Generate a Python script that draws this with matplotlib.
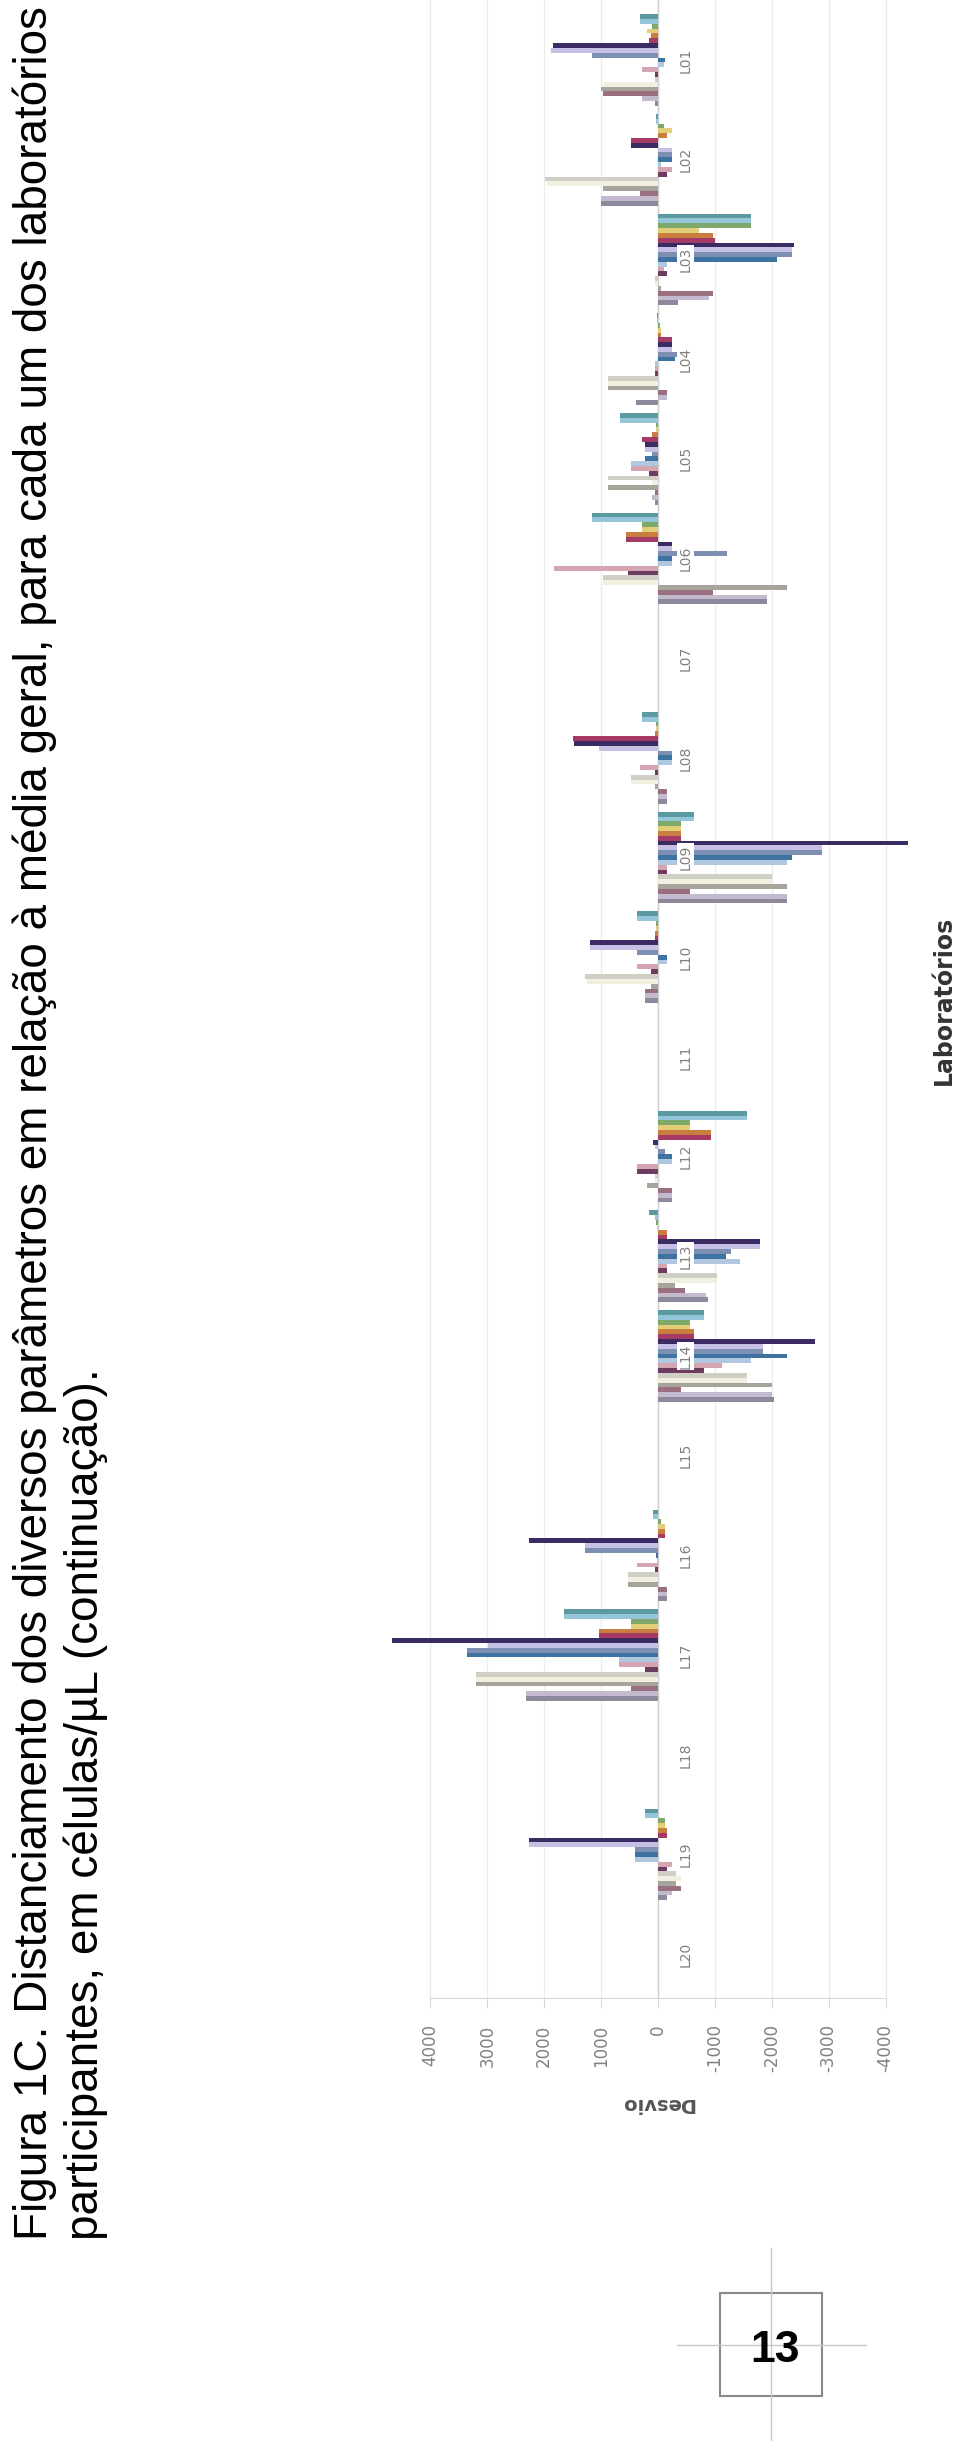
import numpy as np
import matplotlib.pyplot as plt
from matplotlib.patches import Rectangle
from matplotlib.lines import Line2D

# labs, top to bottom as they appear on the (rotated) page
labs = ['L01', 'L02', 'L03', 'L04', 'L05', 'L06', 'L07', 'L08', 'L09', 'L10',
        'L11', 'L12', 'L13', 'L14', 'L15', 'L16', 'L17', 'L18', 'L19', 'L20']

value_ticks = [4000, 3000, 2000, 1000, 0, -1000, -2000, -3000, -4000]

# distance to the overall mean, one value per parameter (19 parameters)
lab01 = [310, 310, 100, 190, 120, 150, 1850, 1880, 1160, -125, -100, 280, 60, 60, 970, 1000, 970, 280, 60]
lab02 = [30, 40, -100, -250, -150, 470, 470, -250, -250, -250, -50, -250, -150, 1980, 1950, 970, 310, 1000, 1000]
lab03 = [-1630, -1630, -1630, -720, -970, -1000, -2385, -2350, -2350, -2100, -150, -100, -150, 60, 60, -50, -970, -900, -350]
lab04 = [20, 20, -30, -60, -60, -250, -250, -250, -440, -300, 60, 60, 60, 880, 880, 880, -150, -150, 380]
lab05 = [660, 660, 40, 40, 100, 280, 220, 220, 100, 220, 470, 470, 150, 880, 100, 880, 60, 100, 60]
lab06 = [1160, 1160, 280, 280, 565, 565, -250, -250, -1220, -250, -250, 1820, 530, 970, 970, -2260, -970, -1915, -1915]
lab07 = [0] * 19
lab08 = [280, 280, 30, 30, 60, 1500, 1475, 1035, -250, -250, -250, 310, 60, 470, 470, 60, -150, -150, -150]
lab09 = [-630, -630, -410, -410, -410, -410, -4400, -2890, -2890, -2350, -2260, -150, -150, -2000, -2000, -2260, -565, -2260, -2260]
lab10 = [375, 375, 30, 30, 60, 60, 1190, 1190, 375, -150, -150, 375, 125, 1290, 1250, 125, 220, 220, 220]
lab11 = [0] * 19
lab12 = [-1570, -1570, -570, -570, -940, -940, 95, 50, -120, -250, -250, 375, 375, 60, 60, 190, -250, -250, -250]
lab13 = [160, 60, 30, 20, -150, -150, -1790, -1790, -1290, -1190, -1440, -150, -150, -1035, -1035, -300, -470, -850, -880]
lab14 = [-815, -815, -565, -565, -630, -630, -2760, -1850, -1850, -2260, -1630, -1130, -815, -1570, -1570, -2000, -410, -2000, -2040]
lab15 = [0] * 19
lab16 = [95, 95, -50, -125, -125, -125, 2260, 1290, 1290, 40, 20, 375, 60, 535, 535, 535, -150, -150, -150]
lab17 = [1660, 1660, 470, 470, 1035, 1035, 4675, 2980, 3360, 3360, 690, 690, 220, 3200, 3200, 3200, 470, 2320, 2320]
lab18 = [0] * 19
lab19 = [220, 220, -125, -125, -150, -150, 2260, 2260, 410, 410, 410, -250, -150, -310, -410, -310, -410, -250, -150]
lab20 = [0] * 19

values = np.array([lab01, lab02, lab03, lab04, lab05, lab06, lab07, lab08, lab09, lab10,
                   lab11, lab12, lab13, lab14, lab15, lab16, lab17, lab18, lab19, lab20])

colors = ['#5b9aa0', '#93c6d8', '#7fa96b', '#e3cf78', '#c77e3f', '#a53a67', '#3a2b62',
          '#c6bfe6', '#7d8fb3', '#3e72a0', '#afc8df', '#d5a5b1', '#6d3c60', '#cfcfc5',
          '#f0efe0', '#a7a59b', '#9a7080', '#c3bad0', '#8e889c']

W, H = 960, 2448
fig = plt.figure(figsize=(9.6, 24.48), dpi=100)


def fx(px):
    return px / W


def fy(py):
    return 1 - py / H


# the page is turned: the value axis runs across, labs run down
ax = fig.add_axes([fx(380), fy(1998), fx(920) - fx(380), 1998 / H])
n_labs, n_par = values.shape
pos = np.arange(n_labs)
bh = 0.92 / n_par
for j in range(n_par):
    ax.barh(pos - 0.46 + (j + 0.5) * bh, values[:, j], height=bh,
            color=colors[j], linewidth=0, zorder=2)

ax.set_xlim(4886, -4605)
ax.set_ylim(19.44, -0.602)
ax.set_xticks(value_ticks)
ax.set_xticklabels([str(v) for v in value_ticks], rotation=90, fontsize=12, color='#808080')
ax.tick_params(axis='x', length=7, color='#d8d8d8', pad=12)
ax.set_yticks([])
ax.xaxis.grid(True, color='#ececec', lw=1)
ax.set_axisbelow(True)
for s in ['top', 'left', 'right']:
    ax.spines[s].set_visible(False)
ax.spines['bottom'].set_color('#d8d8d8')
ax.spines['bottom'].set_bounds(-4000, 4000)
ax.axvline(0, color='#d0d0d0', lw=1, zorder=1)

for i, lab in enumerate(labs):
    ax.text(-480, i, lab, rotation=90, ha='center', va='center', fontsize=10,
            color='#808080', zorder=5,
            bbox=dict(fc='white', ec='none', pad=1))

fig.text(fx(657), fy(2103), 'Desvio', rotation=180, ha='center', va='center',
         fontsize=14, fontweight='bold', color='#555555')
fig.text(fx(944), fy(1000), 'Laboratórios', rotation=90, ha='center', va='center',
         fontsize=17, fontweight='bold', color='#333333')

# caption, turned with the page
line1 = 'Figura 1C. Distanciamento dos diversos parâmetros em relação à média geral, para cada um dos laboratórios'
line2 = 'participantes, em células/µL (continuação).'
fig.text(fx(47), fy(2240), line1, rotation=90, rotation_mode='anchor', ha='left',
         va='baseline', fontsize=33, family='Liberation Sans')
fig.text(fx(98), fy(2240), line2, rotation=90, rotation_mode='anchor', ha='left',
         va='baseline', fontsize=33, family='Liberation Sans')

# page number box
fig.add_artist(Line2D([fx(771), fx(771)], [fy(2248), fy(2440)], color='#c8c8c8', lw=1))
fig.add_artist(Line2D([fx(677), fx(866)], [fy(2345), fy(2345)], color='#c8c8c8', lw=1))
fig.add_artist(Rectangle((fx(720), fy(2396)), fx(822) - fx(720), (2396 - 2293) / H,
                         fill=False, ec='#8a8a8a', lw=1.5, transform=fig.transFigure))
fig.text(fx(775), fy(2350), '13', ha='center', va='center', fontsize=32,
         fontweight='bold', family='Liberation Sans')

fig.savefig('out.png', dpi=100)
